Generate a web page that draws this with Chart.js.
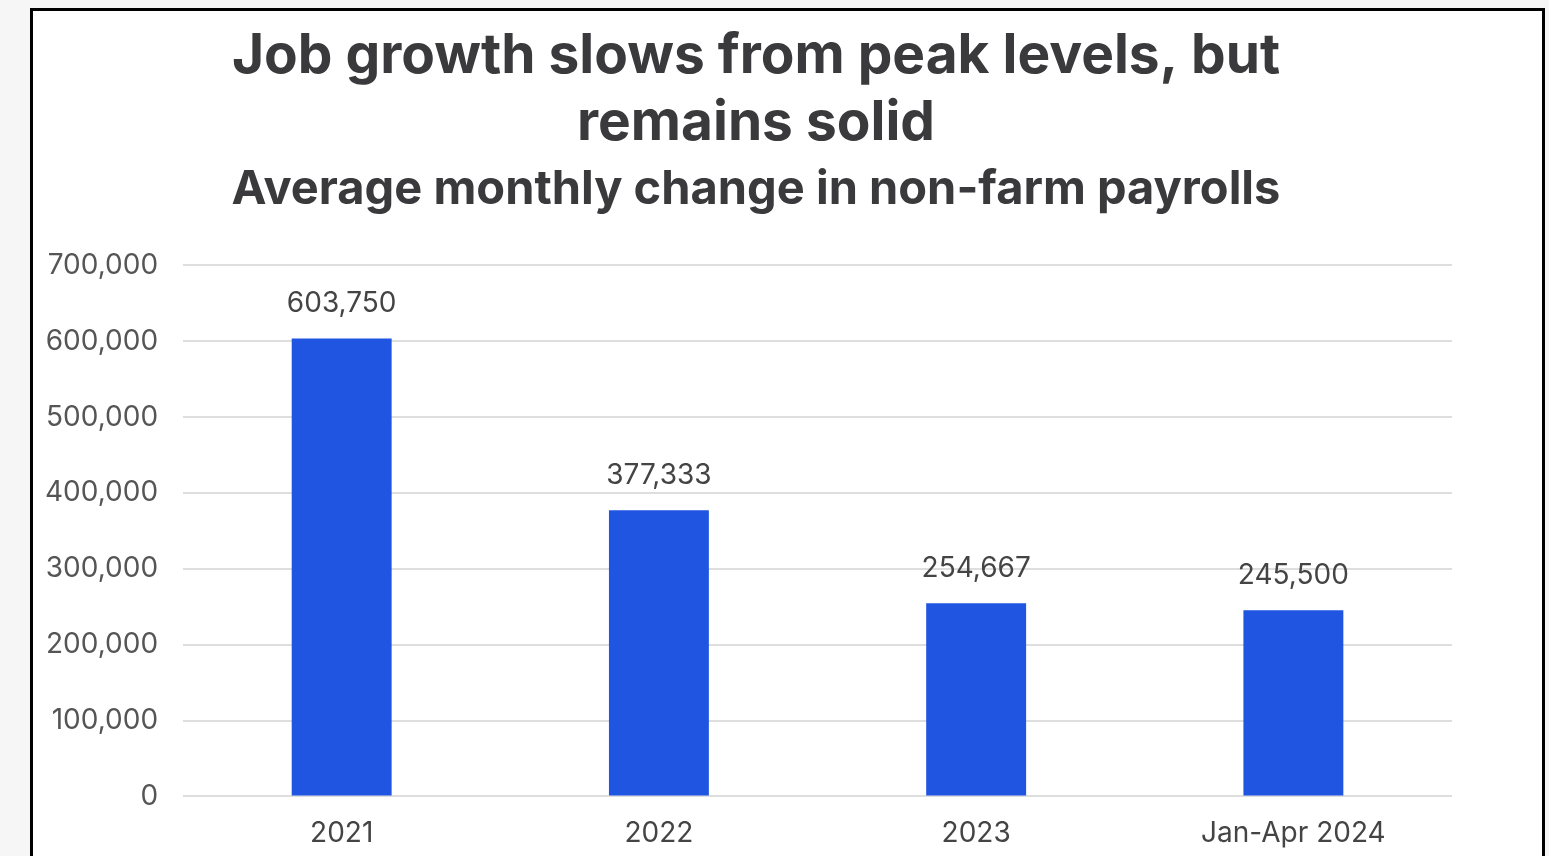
<!DOCTYPE html>
<html>
<head>
<meta charset="utf-8">
<script src="https://cdn.jsdelivr.net/npm/chart.js@4"></script>
<style>
  html, body { margin: 0; padding: 0; }
  body { width: 1549px; height: 856px; background: #f6f6f6; overflow: hidden; position: relative; }
  #frame {
    position: absolute; left: 30px; top: 8px; width: 1509px; height: 880px;
    border: 3px solid #000; background: #fff; overflow: hidden;
  }
  #wrap { position: absolute; left: -13px; top: 0px; width: 1472px; height: 859px; }
</style>
</head>
<body>
<div id="frame">
  <div id="wrap"><canvas id="jobsChart"></canvas></div>
</div>
<script>
// Chart data
const categories = ["2021", "2022", "2023", "Jan-Apr 2024"];
const payrolls = [603750, 377333, 254667, 245500];
const yTicks = [0, 100000, 200000, 300000, 400000, 500000, 600000, 700000];

const FONT = "Inter, 'Open Sans', sans-serif";

// draws the value above each bar
const barValues = {
  id: "barValues",
  afterDatasetsDraw(chart) {
    const ctx = chart.ctx;
    const meta = chart.getDatasetMeta(0);
    ctx.save();
    ctx.font = "28px " + FONT;
    ctx.fillStyle = "#444";
    ctx.textAlign = "center";
    ctx.textBaseline = "middle";
    meta.data.forEach(function(bar, i) {
      ctx.fillText(payrolls[i].toLocaleString("en-US"), bar.x, bar.y - 35);
    });
    ctx.restore();
  }
};

// headings sit a bit right of the canvas centre in the original
const headingShift = {
  id: "headingShift",
  afterLayout(chart) {
    chart.boxes.forEach(function(box) {
      if (box.options && box.options.text !== undefined && box.options.font) {
        box.left += 20;
        box.right += 20;
      }
    });
  }
};

document.addEventListener("DOMContentLoaded", function() {
  const ctx = document.getElementById("jobsChart").getContext("2d");
  new Chart(ctx, {
    type: "bar",
    data: {
      labels: categories,
      datasets: [{
        data: payrolls,
        backgroundColor: "#1f55e0",
        borderWidth: 0,
        barPercentage: 0.315,
        categoryPercentage: 1
      }]
    },
    options: {
      responsive: true,
      maintainAspectRatio: false,
      animation: false,
      layout: { padding: { left: 0, right: 40, top: 0, bottom: 0 } },
      plugins: {
        legend: { display: false },
        tooltip: { enabled: false },
        title: {
          display: true,
          text: ["Job growth slows from peak levels, but", "remains solid"],
          color: "#3a3a3c",
          font: { family: FONT, size: 55, weight: "bold", lineHeight: 1.218 },
          padding: { top: 12, bottom: 5 }
        },
        subtitle: {
          display: true,
          text: "Average monthly change in non-farm payrolls",
          color: "#3a3a3c",
          font: { family: FONT, size: 47, weight: "bold", lineHeight: 1.2 },
          padding: { top: 0, bottom: 47 }
        }
      },
      scales: {
        x: {
          grid: { display: false, drawTicks: false },
          border: { display: false },
          ticks: { color: "#444", font: { family: FONT, size: 28 }, padding: 20 }
        },
        y: {
          min: 0,
          max: 700000,
          afterBuildTicks: function(axis) {
            axis.ticks = yTicks.map(function(v) { return { value: v }; });
          },
          grid: { color: "#dedede", lineWidth: 2, drawTicks: false },
          border: { display: false },
          ticks: {
            color: "#555",
            font: { family: FONT, size: 28 },
            padding: 25,
            callback: function(v) { return v.toLocaleString("en-US"); }
          }
        }
      }
    },
    plugins: [barValues, headingShift]
  });
});
</script>
</body>
</html>
